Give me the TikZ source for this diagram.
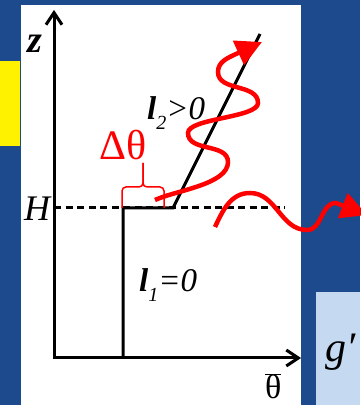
\documentclass[tikz,border=0pt]{standalone}
\usepackage{fontspec}
\setmainfont{Liberation Serif}
\usetikzlibrary{arrows.meta}
\definecolor{slideblue}{RGB}{28,74,140}
\definecolor{paleblue}{RGB}{197,217,241}
\newcommand{\subidx}[1]{\raisebox{-0.28em}{\fontsize{20}{20}\selectfont #1}}

\begin{document}
\begin{tikzpicture}[x=1pt, y=1pt,
    axis/.style={line width=3pt},
    wave/.style={red, line width=4.5pt, -{Triangle[length=26pt,width=26pt]}},
    lbl/.style={inner sep=0pt, anchor=base west},
    every node/.style={font=\fontsize{30}{36}\selectfont}]
  \useasboundingbox (0,0) rectangle (360,405);
  \fill[slideblue] (0,0) rectangle (360,405);
  \fill[white] (21,0) rectangle (301,400);
  \fill[yellow] (0,259) rectangle (20,344);
  \fill[paleblue] (316,0) rectangle (360,113);

  \coordinate (O) at (54,47);
  \coordinate (ztop) at (54,395);
  \coordinate (xend) at (301,47);
  \coordinate (Hleft) at (54,197);
  \coordinate (Hright) at (285,197);
  \coordinate (foot) at (123,47);
  \coordinate (knee) at (123,197);
  \coordinate (bend) at (173,197);
  \coordinate (ltop) at (260,371);

  \draw[axis, dash pattern=on 7pt off 4.5pt] (Hleft) -- (Hright);
  \draw[axis, {Straight Barb[length=12pt,width=16pt]}-{Straight Barb[length=12pt,width=16pt]}] (ztop) -- (O) -- (xend);
  \draw[axis] (foot) -- (knee) -- (bend) -- (ltop);

  \draw[red, line width=1.5pt, rounded corners=4pt] (122,197) -- (122,218) -- (143,218) -- (143,242);
  \draw[red, line width=1.5pt, rounded corners=4pt] (164,197) -- (164,218) -- (143,218) -- (143,242);

  \draw[wave] (155,205) to[out=25,in=-90,looseness=0.7] (228,243)
    to[out=90,in=-90,looseness=1] (188,272)
    to[out=90,in=-90,looseness=0.5] (258,302)
    to[out=90,in=-90,looseness=1] (218,333)
    to[out=90,in=205,looseness=1] (236,351) -- (262,363);
  \draw[wave] (215,178) to[out=65,in=180] (250,212) to[out=0,in=180] (307,175)
    to[out=0,in=180] (336,202) -- (367,190);

  \node[lbl, font=\fontsize{38}{44}\selectfont\bfseries\itshape] (zlab) at (27,352) {z};
  \node[lbl, font=\fontsize{36}{42}\selectfont\itshape] (Hlab) at (24,184) {H};
  \node[lbl, red, font=\fontsize{42}{48}\selectfont] (dthlab) at (99,245) {Δθ};
  \node[lbl, font=\fontsize{33}{38}\selectfont\itshape] (ltwolab) at (147,285) {\textbf{l}\subidx{2}>0};
  \node[lbl, font=\fontsize{33}{38}\selectfont\itshape] (lonelab) at (139,113) {\textbf{l}\subidx{1}=0};
  \node[lbl, font=\fontsize{34}{40}\selectfont] (thlab) at (265,6) {$\overline{\hbox{θ}}$};
  \node[lbl, font=\fontsize{42}{48}\selectfont\itshape] (glab) at (325,43) {g′};
\end{tikzpicture}
\end{document}
